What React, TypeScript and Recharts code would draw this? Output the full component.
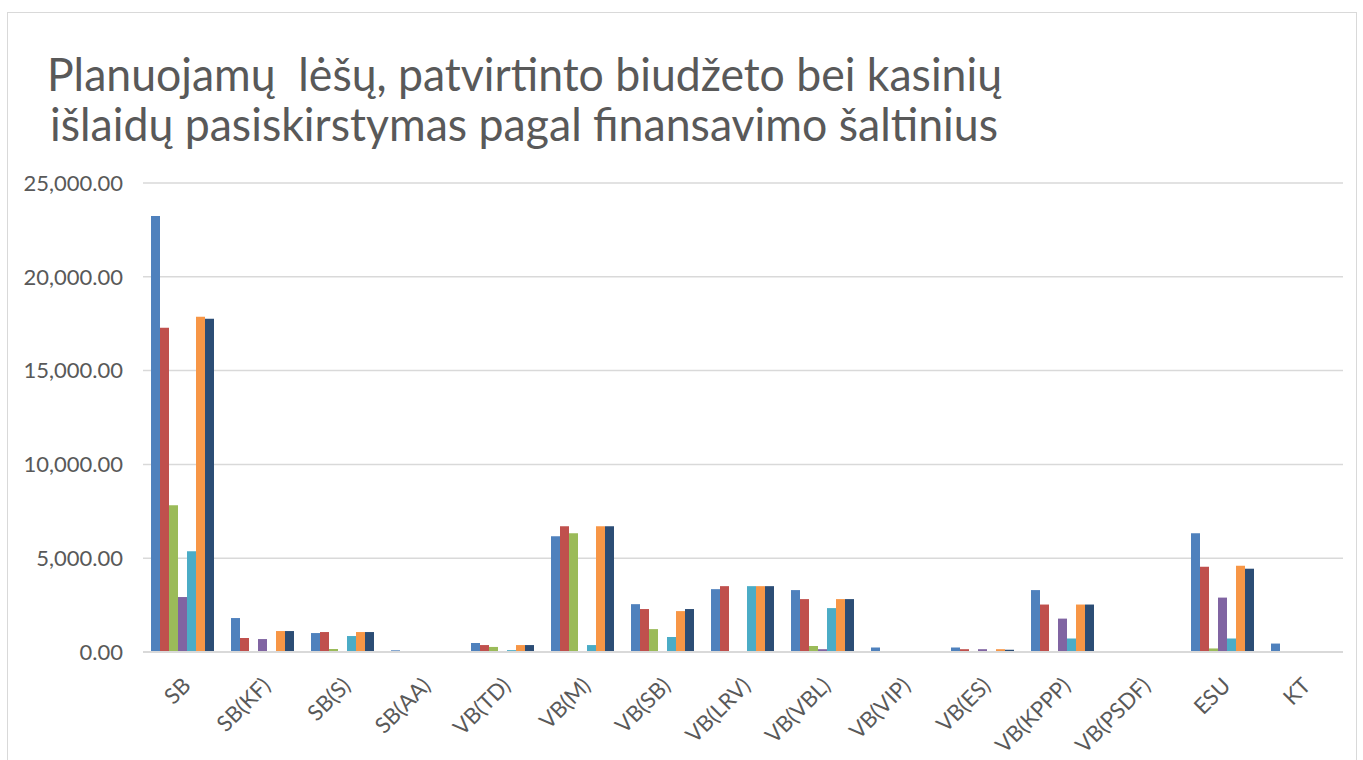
import React from "react";
import { BarChart, Bar, XAxis, YAxis, CartesianGrid } from "recharts";

const categories = ["SB", "SB(KF)", "SB(S)", "SB(AA)", "VB(TD)", "VB(M)", "VB(SB)", "VB(LRV)", "VB(VBL)", "VB(VIP)", "VB(ES)", "VB(KPPP)", "VB(PSDF)", "ESU", "KT"];

const series1 = [23245, 1810, 1010, 90, 480, 6170, 2550, 3350, 3300, 240, 240, 3300, 0, 6330, 450];
const series2 = [17290, 745, 1064, 0, 370, 6700, 2290, 3510, 2820, 0, 150, 2530, 0, 4550, 0];
const series3 = [7820, 0, 160, 0, 270, 6330, 1220, 0, 320, 0, 0, 0, 0, 190, 0];
const series4 = [2930, 690, 40, 0, 0, 0, 0, 0, 150, 0, 150, 1780, 0, 2900, 0];
const series5 = [5370, 0, 851, 0, 100, 370, 800, 3510, 2340, 0, 0, 720, 0, 720, 0];
const series6 = [17870, 1117, 1064, 0, 370, 6700, 2180, 3510, 2820, 0, 150, 2530, 0, 4600, 40];
const series7 = [17770, 1117, 1064, 0, 370, 6700, 2290, 3510, 2820, 0, 120, 2530, 0, 4440, 40];

const yTicks = [0, 5000, 10000, 15000, 20000, 25000];
const titleLines = [
  "Planuojamų  lėšų, patvirtinto biudžeto bei kasinių",
  "išlaidų pasiskirstymas pagal finansavimo šaltinius",
];

const seriesList = [
  { key: "s1", values: series1, color: "#4F81BD" },
  { key: "s2", values: series2, color: "#C0504D" },
  { key: "s3", values: series3, color: "#9BBB59" },
  { key: "s4", values: series4, color: "#8064A2" },
  { key: "s5", values: series5, color: "#4BACC6" },
  { key: "s6", values: series6, color: "#F79646" },
  { key: "s7", values: series7, color: "#2C4D75" },
];

const data = categories.map((c, i) => {
  const row: Record<string, any> = { name: c };
  seriesList.forEach((s) => {
    row[s.key] = s.values[i];
  });
  return row;
});

const FONT = "Lato, 'Open Sans', sans-serif";
const TEXT = "#595959";

const XTick = (props: any) => {
  const { x, y, payload } = props;
  const ax = x + 9;
  const ay = y + 27;
  return (
    <text
      x={ax}
      y={ay}
      textAnchor="end"
      fontSize={22}
      fontFamily={FONT}
      fill={TEXT}
      transform={`rotate(-45, ${ax}, ${ay})`}
    >
      {payload.value}
    </text>
  );
};

const fmt = (v: number) =>
  v.toLocaleString("en-US", { minimumFractionDigits: 2, maximumFractionDigits: 2 });

export default function App() {
  return (
    <div style={{ position: "absolute", left: 0, top: 0, width: 1363, height: 760, background: "#fff", overflow: "hidden" }}>
      <div
        style={{
          position: "absolute",
          left: 7,
          top: 12,
          width: 1350,
          height: 800,
          border: "1.5px solid #D9D9D9",
          boxSizing: "border-box",
        }}
      />
      <BarChart
        width={1363}
        height={760}
        data={data}
        margin={{ top: 183, right: 20, left: 0, bottom: 8 }}
        barCategoryGap={8}
        barGap={0}
        style={{ position: "absolute", left: 0, top: 0 }}
      >
        <CartesianGrid vertical={false} stroke="#D9D9D9" strokeWidth={1.5} />
        <XAxis
          dataKey="name"
          interval={0}
          tickLine={false}
          axisLine={{ stroke: "#D9D9D9", strokeWidth: 2 }}
          height={100}
          tick={<XTick />}
        />
        <YAxis
          domain={[0, 25000]}
          ticks={yTicks}
          width={143}
          tickSize={0}
          tickMargin={20}
          axisLine={false}
          tickLine={false}
          tickFormatter={fmt}
          tick={{ fontSize: 22, fontFamily: FONT, fill: TEXT }}
        />
        {seriesList.map((s) => (
          <Bar key={s.key} dataKey={s.key} fill={s.color} isAnimationActive={false} />
        ))}
      </BarChart>
      <svg width={1363} height={170} style={{ position: "absolute", left: 0, top: 0 }}>
        <text x={47} y={91} fontSize={46} fontFamily={FONT} fill={TEXT} textLength={955} lengthAdjust="spacingAndGlyphs" style={{ whiteSpace: "pre" }}>
          {titleLines[0]}
        </text>
        <text x={50} y={141} fontSize={46} fontFamily={FONT} fill={TEXT} textLength={948} lengthAdjust="spacingAndGlyphs">
          {titleLines[1]}
        </text>
      </svg>
    </div>
  );
}
